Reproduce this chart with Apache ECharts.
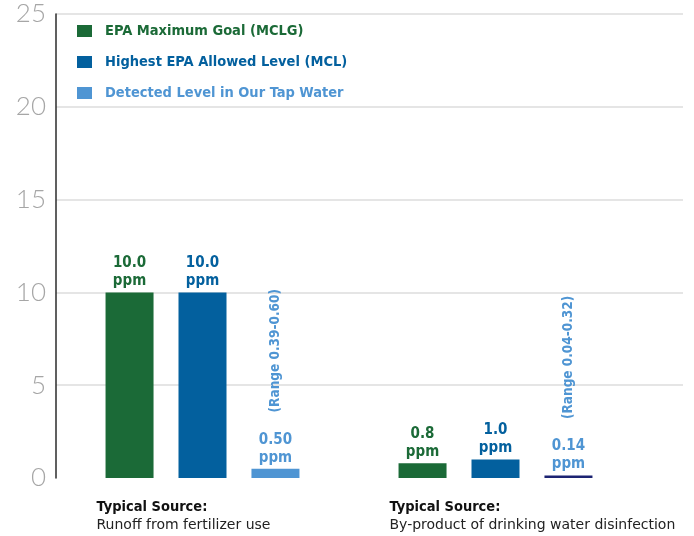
<!DOCTYPE html>
<html>
<head>
<meta charset="utf-8">
<script src="https://cdn.jsdelivr.net/npm/echarts@6/dist/echarts.min.js"></script>
<style>
html, body { margin: 0; padding: 0; background: #fff; }
#main { width: 694px; height: 536px; }
</style>
</head>
<body>
<div id="main"></div>
<script>
// data
var categories = ['Runoff from fertilizer use', 'By-product of drinking water disinfection'];
var seriesNames = ['EPA Maximum Goal (MCLG)', 'Highest EPA Allowed Level (MCL)', 'Detected Level in Our Tap Water'];
var mclg = [10, 0.8];
var mcl = [10, 1.0];
var detected = [0.5, 0.14];
var detectedRange = ['0.39-0.60', '0.04-0.32'];
var yTicks = [0, 5, 10, 15, 20, 25];

var chart = echarts.init(document.getElementById('main'));

var font = 'DejaVu Sans';
var fontC = 'DejaVu Sans Condensed';
var green = '#1b6a37', blue = '#03609e', light = '#4f95d3', navy = '#1c2372';

function valLabel(color, digits) {
  return {
    show: true,
    position: 'top',
    distance: 2,
    color: color,
    fontFamily: fontC,
    fontWeight: 'bold',
    fontSize: 15,
    lineHeight: 18,
    formatter: function (p) {
      return p.value.toFixed(digits) + '\nppm';
    }
  };
}

var option = {
  animation: false,
  color: [green, blue, light],
  legend: {
    orient: 'vertical',
    left: 72,
    top: 18,
    icon: 'rect',
    itemWidth: 15,
    itemHeight: 12,
    itemGap: 15,
    textStyle: { fontFamily: fontC, fontWeight: 'bold', fontSize: 14.5, lineHeight: 16, padding: [0, 0, 0, 8] },
    data: [
      { name: seriesNames[0], textStyle: { color: green } },
      { name: seriesNames[1], textStyle: { color: blue } },
      { name: seriesNames[2], textStyle: { color: light } }
    ]
  },
  grid: [
    { left: 56, right: 11, top: 14, bottom: 58 },
    { left: 56, width: 586, top: 14, bottom: 58 }
  ],
  xAxis: [
    { type: 'category', gridIndex: 0, data: categories, show: false },
    {
      type: 'category',
      gridIndex: 1,
      data: categories,
      axisLine: { show: false },
      axisTick: { show: false },
      axisLabel: {
        margin: 20,
        interval: 0,
        formatter: function (v) {
          return '{b|Typical Source:}\n{n|' + v + '}';
        },
        rich: {
          b: { fontFamily: fontC, fontWeight: 'bold', fontSize: 14.5, color: '#111', width: 212, align: 'left', lineHeight: 18 },
          n: { fontFamily: font, fontSize: 14, color: '#222', width: 212, align: 'left', lineHeight: 18 }
        }
      }
    }
  ],
  yAxis: [
    {
      type: 'value',
      gridIndex: 0,
      min: yTicks[0],
      max: yTicks[yTicks.length - 1],
      interval: 5,
      axisLine: { show: true, lineStyle: { color: '#2b2b2b', width: 1.5 } },
      axisTick: { show: false },
      axisLabel: { margin: 10, fontFamily: 'Lato', fontWeight: 300, fontSize: 26, color: '#a6a6a6' },
      splitLine: { showMinLine: false, lineStyle: { color: '#dcdcdc', width: 1.5 } }
    },
    {
      type: 'value',
      gridIndex: 1,
      min: yTicks[0],
      max: yTicks[yTicks.length - 1],
      interval: 5,
      show: false,
      splitLine: { show: false }
    }
  ],
  series: [
    {
      name: seriesNames[0],
      type: 'bar',
      xAxisIndex: 1,
      yAxisIndex: 1,
      barWidth: 48,
      barGap: '52%',
      itemStyle: { color: green },
      label: valLabel(green, 1),
      data: mclg
    },
    {
      name: seriesNames[1],
      type: 'bar',
      xAxisIndex: 1,
      yAxisIndex: 1,
      barWidth: 48,
      barGap: '52%',
      itemStyle: { color: blue },
      label: valLabel(blue, 1),
      data: mcl
    },
    {
      name: seriesNames[2],
      type: 'bar',
      xAxisIndex: 1,
      yAxisIndex: 1,
      barWidth: 48,
      barGap: '52%',
      itemStyle: { color: light },
      label: valLabel(light, 2),
      data: detected.map(function (v, i) {
        return i === 1 ? { value: v, itemStyle: { color: navy } } : v;
      }),
      markPoint: {
        symbol: 'rect',
        symbolSize: 1,
        itemStyle: { color: 'rgba(0,0,0,0)' },
        label: {
          show: true,
          position: 'inside',
          rotate: 90,
          offset: [118, 0],
          color: light,
          fontFamily: fontC,
          fontWeight: 'bold',
          fontSize: 13.5,
          formatter: function (p) { return p.name; }
        },
        data: detected.map(function (v, i) {
          return { name: '(Range ' + detectedRange[i] + ')', coord: [i, v] };
        })
      }
    }
  ]
};

chart.setOption(option);
</script>
</body>
</html>
